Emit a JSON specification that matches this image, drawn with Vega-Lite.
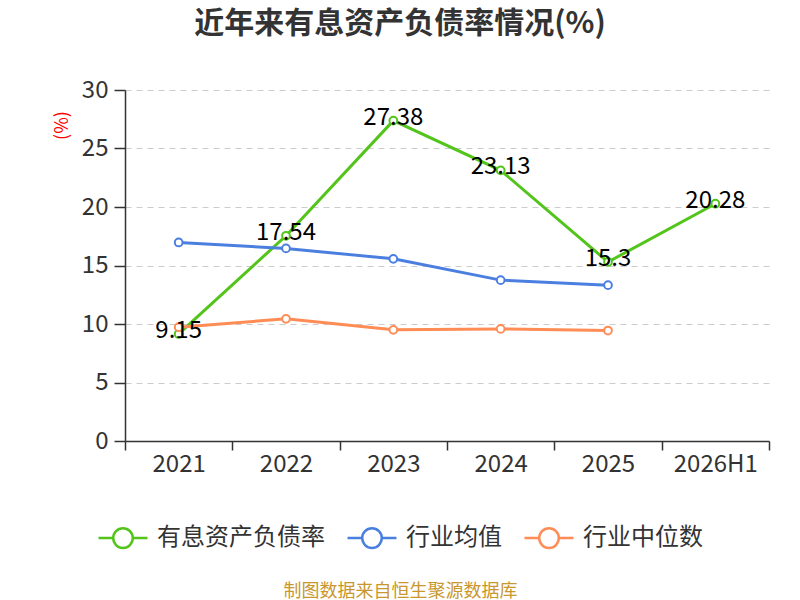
{
  "$schema": "https://vega.github.io/schema/vega-lite/v6.json",
  "width": 644,
  "height": 351,
  "autosize": "none",
  "padding": {"left": 125, "top": 90, "right": 31, "bottom": 159},
  "background": "white",
  "config": {
    "font": "Noto Sans CJK SC",
    "view": {"stroke": null}
  },
  "title": {
    "text": "近年来有息资产负债率情况(%)",
    "fontSize": 30,
    "fontWeight": "bold",
    "color": "#333333",
    "anchor": "middle",
    "frame": "group",
    "dx": -47,
    "offset": 39
  },
  "data": {
    "values": [
      {"year": "2021", "series": "有息资产负债率", "value": 9.15},
      {"year": "2022", "series": "有息资产负债率", "value": 17.54},
      {"year": "2023", "series": "有息资产负债率", "value": 27.38},
      {"year": "2024", "series": "有息资产负债率", "value": 23.13},
      {"year": "2025", "series": "有息资产负债率", "value": 15.3},
      {"year": "2026H1", "series": "有息资产负债率", "value": 20.28},
      {"year": "2021", "series": "行业均值", "value": 16.97},
      {"year": "2022", "series": "行业均值", "value": 16.46},
      {"year": "2023", "series": "行业均值", "value": 15.57},
      {"year": "2024", "series": "行业均值", "value": 13.75},
      {"year": "2025", "series": "行业均值", "value": 13.32},
      {"year": "2021", "series": "行业中位数", "value": 9.73},
      {"year": "2022", "series": "行业中位数", "value": 10.44},
      {"year": "2023", "series": "行业中位数", "value": 9.5},
      {"year": "2024", "series": "行业中位数", "value": 9.58},
      {"year": "2025", "series": "行业中位数", "value": 9.44}
    ]
  },
  "encoding": {
    "x": {
      "field": "year",
      "type": "ordinal",
      "sort": ["2021", "2022", "2023", "2024", "2025", "2026H1"],
      "scale": {"type": "band", "paddingInner": 0, "paddingOuter": 0},
      "bandPosition": 0.5,
      "axis": {
        "title": "制图数据来自恒生聚源数据库",
        "titleFontSize": 18,
        "titleFontWeight": "normal",
        "titleColor": "#c8972e",
        "titleX": 275,
        "titleY": 150,
        "titleBaseline": "middle",
        "tickBand": "extent",
        "labelAngle": 0,
        "labelFontSize": 24,
        "labelColor": "#333333",
        "labelPadding": 2,
        "tickSize": 9,
        "tickColor": "#333333",
        "tickWidth": 1.5,
        "domainColor": "#333333",
        "domainWidth": 1.5,
        "grid": false
      }
    },
    "y": {
      "field": "value",
      "type": "quantitative",
      "scale": {"domain": [0, 30], "nice": false},
      "axis": {
        "title": "(%)",
        "titleColor": "#ff0000",
        "titleFontSize": 18,
        "titleFontWeight": "normal",
        "titleAngle": -90,
        "titleX": -63,
        "titleY": 35,
        "titleAlign": "center",
        "titleBaseline": "middle",
        "values": [0, 5, 10, 15, 20, 25, 30],
        "labelFontSize": 24,
        "labelColor": "#333333",
        "labelPadding": 6,
        "tickSize": 11,
        "tickColor": "#333333",
        "tickWidth": 1.5,
        "domainColor": "#333333",
        "domainWidth": 1.5,
        "gridColor": "#cccccc",
        "gridDash": [6, 5],
        "gridWidth": 1.2
      }
    },
    "color": {
      "field": "series",
      "type": "nominal",
      "scale": {
        "domain": ["有息资产负债率", "行业均值", "行业中位数"],
        "range": ["#52c41a", "#4a7fe0", "#ff8c55"]
      },
      "legend": {
        "title": null,
        "orient": "none",
        "direction": "horizontal",
        "legendX": -28,
        "legendY": 422,
        "symbolType": "M-1,0H-0.4M0.4,0H1M0.4,0A0.4,0.4,0,1,1,-0.4,0A0.4,0.4,0,1,1,0.4,0",
        "symbolSize": 2400,
        "symbolStrokeWidth": 2.5,
        "symbolFillColor": "white",
        "labelFontSize": 24,
        "labelLimit": 400,
        "labelColor": "#333333",
        "labelOffset": 8,
        "columnPadding": 17
      }
    }
  },
  "layer": [
    {
      "mark": {"type": "line", "strokeWidth": 3}
    },
    {
      "mark": {"type": "point", "filled": false, "fill": "white", "size": 60, "strokeWidth": 2, "opacity": 1}
    },
    {
      "transform": [{"filter": "datum.series === '有息资产负债率'"}],
      "mark": {"type": "text", "fontSize": 24, "dy": -3, "baseline": "middle", "align": "center"},
      "encoding": {
        "text": {"field": "value", "type": "quantitative"},
        "color": {"value": "#000000"}
      }
    }
  ]
}
